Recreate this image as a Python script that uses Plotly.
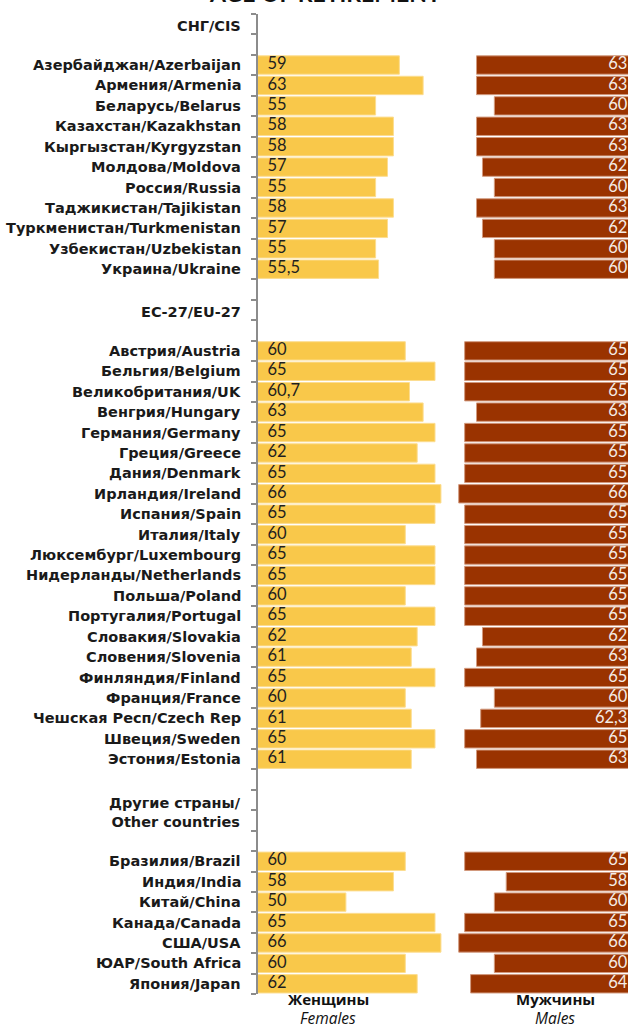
import plotly.graph_objects as go

# ---------------- data ----------------
cis_countries = ["Азербайджан/Azerbaijan", "Армения/Armenia", "Беларусь/Belarus",
                 "Казахстан/Kazakhstan", "Кыргызстан/Kyrgyzstan", "Молдова/Moldova",
                 "Россия/Russia", "Таджикистан/Tajikistan", "Туркменистан/Turkmenistan",
                 "Узбекистан/Uzbekistan", "Украина/Ukraine"]
cis_female = [59, 63, 55, 58, 58, 57, 55, 58, 57, 55, 55.5]
cis_male = [63, 63, 60, 63, 63, 62, 60, 63, 62, 60, 60]

eu_countries = ["Австрия/Austria", "Бельгия/Belgium", "Великобритания/UK", "Венгрия/Hungary",
                "Германия/Germany", "Греция/Greece", "Дания/Denmark", "Ирландия/Ireland",
                "Испания/Spain", "Италия/Italy", "Люксембург/Luxembourg",
                "Нидерланды/Netherlands", "Польша/Poland", "Португалия/Portugal",
                "Словакия/Slovakia", "Словения/Slovenia", "Финляндия/Finland",
                "Франция/France", "Чешская Респ/Czech Rep", "Швеция/Sweden", "Эстония/Estonia"]
eu_female = [60, 65, 60.7, 63, 65, 62, 65, 66, 65, 60, 65, 65, 60, 65, 62, 61, 65, 60, 61, 65, 61]
eu_male = [65, 65, 65, 63, 65, 65, 65, 66, 65, 65, 65, 65, 65, 65, 62, 63, 65, 60, 62.3, 65, 63]

other_countries = ["Бразилия/Brazil", "Индия/India", "Китай/China", "Канада/Canada",
                   "США/USA", "ЮАР/South Africa", "Япония/Japan"]
other_female = [60, 58, 50, 65, 66, 60, 62]
other_male = [65, 58, 60, 65, 66, 60, 64]

group_headers = ["СНГ/CIS", "ЕС-27/EU-27", "Другие страны/<br>Other countries"]
title_text = "AGE OF RETIREMENT"
female_label = ("Женщины", "Females")
male_label = ("Мужчины", "Males")

# ---------------- layout of rows ----------------
rows_label, rows_f, rows_m, rows_y = [], [], [], []
headers_pos = []
r = 0
groups = [(cis_countries, cis_female, cis_male, 1),
          (eu_countries, eu_female, eu_male, 1),
          (other_countries, other_female, other_male, 2)]
for gi, (cs, fv, mv, hlines) in enumerate(groups):
    headers_pos.append(r + (hlines - 1) / 2)
    r += hlines + 1
    for c, f, m in zip(cs, fv, mv):
        rows_label.append(c); rows_f.append(f); rows_m.append(m); rows_y.append(r)
        r += 1
    r += 1
n_rows = rows_y[-1] + 1


def fmt(v):
    s = ("%g" % v)
    return s.replace(".", ",")


W, H = 644, 1030
TOP, BOT = 14, 36
F_MIN, M_MIN = 35.2, 37.5
SCALE = 5.94  # px per year
F_X0, F_X1 = 258, 452
M_X0, M_X1 = 455, 628
F_MAX = F_MIN + (F_X1 - F_X0) / SCALE
M_MAX = M_MIN + (M_X1 - M_X0) / SCALE

label_font = dict(family="DejaVu Sans, sans-serif", size=14.5, color="#1a1a1a")
val_font = "Lato, Open Sans, sans-serif"
cyr_font = "Open Sans, Noto Sans, sans-serif"

fig = go.Figure()
fig.add_trace(go.Bar(
    y=rows_y, x=rows_f, orientation="h", xaxis="x", yaxis="y",
    marker=dict(color="#F9C84A", line=dict(color="#FCDD90", width=1)),
    hoverinfo="x+y", showlegend=False))
fig.add_trace(go.Bar(
    y=rows_y, x=rows_m, orientation="h", xaxis="x2", yaxis="y",
    marker=dict(color="#9A3300", line=dict(color="#D29A7E", width=1)),
    hoverinfo="x+y", showlegend=False))
# value labels
fig.add_trace(go.Scatter(
    y=rows_y, x=[F_MIN + 1.6] * len(rows_y), mode="text", xaxis="x", yaxis="y",
    text=[fmt(v) for v in rows_f], textposition="middle right",
    textfont=dict(family=val_font, size=16.5, color="#1f1f1f"),
    hoverinfo="skip", showlegend=False))
fig.add_trace(go.Scatter(
    y=rows_y, x=[M_MIN + 0.1] * len(rows_y), mode="text", xaxis="x2", yaxis="y",
    text=[fmt(v) for v in rows_m], textposition="middle left",
    textfont=dict(family=val_font, size=16.5, color="#f4ece6"),
    hoverinfo="skip", showlegend=False))

annotations = []
for lab, y in zip(rows_label, rows_y):
    annotations.append(dict(x=243 / W, xref="paper", y=y, yref="y", text="<b>%s</b>" % lab,
                            xanchor="right", yanchor="middle", showarrow=False,
                            font=label_font))
for h, y in zip(group_headers, headers_pos):
    annotations.append(dict(x=243 / W, xref="paper", y=y + 0.1, yref="y",
                            text="<b>%s</b>" % h.replace("<br>", "</b><br><b>"),
                            xanchor="right", yanchor="middle", showarrow=False,
                            align="right", font=label_font))

plot_h = H - TOP - BOT


def py(px):
    return 1 - (px - TOP) / plot_h


for (t1, t2), cx in [(female_label, 328), (male_label, 555)]:
    annotations.append(dict(x=cx / W, xref="paper", y=py(999), yref="paper",
                            text="<b>%s</b>" % t1, showarrow=False, xanchor="center",
                            yanchor="middle", borderpad=0,
                            font=dict(family=cyr_font, size=15, color="#111")))
    annotations.append(dict(x=cx / W, xref="paper", y=py(1029.5), yref="paper",
                            text="<i>%s</i>" % t2, showarrow=False, xanchor="center",
                            yanchor="bottom", borderpad=0,
                            font=dict(family=cyr_font, size=15.5, color="#111")))
annotations.append(dict(x=325 / W, xref="paper", y=py(9), yref="paper",
                        text="<b>%s</b>" % title_text, showarrow=False, xanchor="center",
                        yanchor="bottom",
                        font=dict(family="Lato, Open Sans, sans-serif", size=23, color="#111")))

fig.update_layout(
    width=W, height=H,
    margin=dict(l=0, r=0, t=TOP, b=BOT),
    paper_bgcolor="white", plot_bgcolor="white",
    bargap=0.1,
    xaxis=dict(domain=[F_X0 / W, F_X1 / W], range=[F_MIN, F_MAX], visible=False, fixedrange=True),
    xaxis2=dict(domain=[M_X0 / W, M_X1 / W], range=[M_MAX, M_MIN], visible=False, fixedrange=True),
    yaxis=dict(range=[n_rows - 0.5, -0.5], showgrid=False, zeroline=False,
               showline=True, linecolor="#8c8c8c", linewidth=2,
               tickmode="array", tickvals=[i - 0.5 for i in range(n_rows + 1)],
               ticks="outside", ticklen=5, tickwidth=1.5, tickcolor="#8c8c8c",
               showticklabels=False, anchor="x", fixedrange=True),
    annotations=annotations,
)

fig.write_html("out.html", config={"displayModeBar": False},
               post_script="document.body.style.margin='0px';")
